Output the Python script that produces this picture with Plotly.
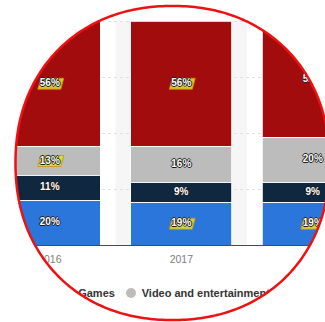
import numpy as np
import plotly.graph_objects as go

# Share of time spent by category (%), stacked to 100 per year
years = ["2016", "2017", "2018"]
series_names = ["Social networking", "Games", "Video and entertainment", "Other"]
social = [20, 19, 19]
games = [11, 9, 9]
video = [13, 16, 20]
other = [56, 56, 52]
series_values = [social, games, video, other]
colors = ["#2a76da", "#0f2840", "#bcbcbc", "#a30c0c"]

# labels drawn with a yellow marker highlight: (series index, year index)
highlighted = {(3, 0), (3, 1), (2, 0), (0, 1), (0, 2)}

W, H = 325, 322
AXIS_PY, TOP_PY = 245, 21          # pixel rows of 0 % and 100 %
PX_PER_UNIT = (AXIS_PY - TOP_PY) / 100
PITCH, MID_PX = 131.5, 181.3        # category spacing and centre of the middle year


def to_x(px):
    return 1 + (px - MID_PX) / PITCH


def to_y(py):
    return (AXIS_PY - py) / PX_PER_UNIT


xs = list(range(len(years)))
fig = go.Figure()

for name, vals, col in zip(series_names, series_values, colors):
    fig.add_trace(go.Bar(
        x=xs, y=vals, name=name, marker=dict(color=col, line=dict(color="white", width=0.8)),
        width=101 / PITCH, showlegend=False, hoverinfo="skip",
    ))

# label positions: middle of each stacked segment
outline = "-1px 0 #1a1a1a, 1px 0 #1a1a1a, 0 -1px #1a1a1a, 0 1px #1a1a1a"
lab_x, lab_y, lab_t = [], [], []
hx, hy = [], []
base = np.zeros(len(years))
for si, vals in enumerate(series_values):
    v = np.array(vals, dtype=float)
    mids = base + v / 2
    for yi in range(len(years)):
        lab_x.append(xs[yi])
        lab_y.append(mids[yi])
        lab_t.append(f"{vals[yi]}%")
        if (si, yi) in highlighted:
            cx = MID_PX + (xs[yi] - 1) * PITCH + 1
            cy = AXIS_PY - mids[yi] * PX_PER_UNIT
            for px, py in [(cx - 13, cy + 5.5), (cx + 10, cy + 5.5), (cx + 13, cy - 5.5),
                           (cx - 10, cy - 5.5), (cx - 13, cy + 5.5)]:
                hx.append(to_x(px))
                hy.append(to_y(py))
            hx.append(None)
            hy.append(None)
    base += v

fig.add_trace(go.Scatter(
    x=hx, y=hy, mode="lines", fill="toself", fillcolor="rgba(225,222,45,0.88)",
    line=dict(color="rgba(205,140,10,0.8)", width=1), showlegend=False, hoverinfo="skip",
))
fig.add_trace(go.Scatter(
    x=lab_x, y=lab_y, text=lab_t, mode="text", textposition="middle center",
    textfont=dict(family="Liberation Sans", size=10, color="white", weight="bold", shadow=outline),
    showlegend=False, hoverinfo="skip", cliponaxis=False,
))

# legend row under the axis, drawn on a helper subplot measured in pixels
legend_marker_px = [-60, 67.5, 131, 286]
legend_py = 293
fig.add_trace(go.Scatter(
    x=legend_marker_px, y=[legend_py] * 4, mode="markers", xaxis="x2", yaxis="y2",
    marker=dict(size=10, color=colors, symbol="circle"),
    showlegend=False, hoverinfo="skip", cliponaxis=False,
))
fig.add_trace(go.Scatter(
    x=[p + 10.7 for p in legend_marker_px], y=[legend_py + 1] * 4, xaxis="x2", yaxis="y2",
    text=series_names, mode="text", textposition="middle right",
    textfont=dict(family="Liberation Sans", size=11, color="#333333", weight="bold"),
    showlegend=False, hoverinfo="skip", cliponaxis=False,
))

# highlighted band behind the middle year
fig.add_shape(type="rect", xref="x", yref="y", x0=0.5, x1=1.5, y0=0, y1=100,
              fillcolor="#f6f6f6", line=dict(width=0), layer="below")

# round lens (slightly squarish superellipse): white outside, red rim
CX, CY, R, EXP = 172.5, 163, 157, 2.15
theta = np.linspace(0, 2 * np.pi, 361)
c, s = np.cos(theta), np.sin(theta)
ex = CX + R * np.sign(c) * np.abs(c) ** (2 / EXP)
ey = CY + R * np.sign(s) * np.abs(s) ** (2 / EXP)
ring = " ".join(
    f"{'M' if i == 0 else 'L'} {px / W:.5f},{1 - py / H:.5f}" for i, (px, py) in enumerate(zip(ex, ey))
) + " Z"
mask_path = "M -0.2,-0.2 L 1.2,-0.2 L 1.2,1.2 L -0.2,1.2 Z " + ring
fig.add_shape(type="path", xref="paper", yref="paper", path=mask_path, fillcolor="white",
              fillrule="evenodd", line=dict(width=0), layer="above")
fig.add_shape(type="path", xref="paper", yref="paper", path=ring,
              line=dict(color="#ee1111", width=2.5), layer="above")

fig.update_layout(
    width=W, height=H, margin=dict(l=0, r=0, t=0, b=0),
    paper_bgcolor="white", plot_bgcolor="rgba(0,0,0,0)", barmode="stack", showlegend=False,
    xaxis=dict(range=[to_x(0), to_x(W)], tickvals=xs, ticktext=years, showgrid=False,
               showline=True, linecolor="#4a4a4a", linewidth=1, ticks="outside", ticklen=4,
               tickcolor="rgba(0,0,0,0)", tickfont=dict(family="Liberation Sans", size=10.5, color="#808080"),
               zeroline=False, fixedrange=True),
    yaxis=dict(range=[0, to_y(0)], domain=[1 - AXIS_PY / H, 1], dtick=25, showgrid=True,
               gridcolor="#e0e0e0", griddash="dot", showticklabels=False, zeroline=False, fixedrange=True),
    xaxis2=dict(range=[0, W], domain=[0, 1], anchor="y2", visible=False, fixedrange=True),
    yaxis2=dict(range=[H, AXIS_PY], domain=[0, 1 - AXIS_PY / H], anchor="x2", visible=False, fixedrange=True),
)

fig.write_html("out.html")
